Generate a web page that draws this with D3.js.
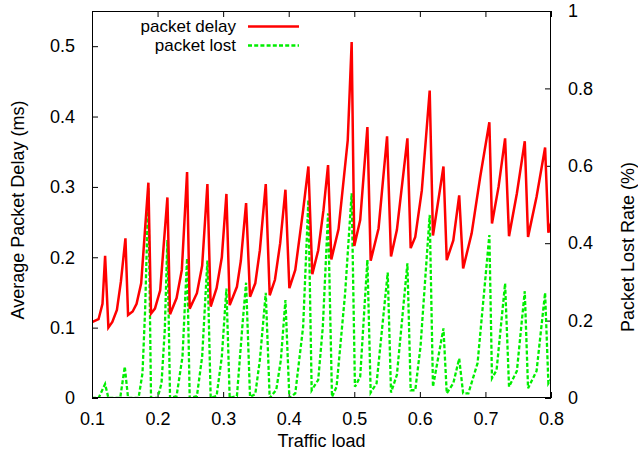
<!DOCTYPE html>
<html>
<head>
<meta charset="utf-8">
<script src="https://cdn.jsdelivr.net/npm/d3@7"></script>
<style>
  html, body { margin: 0; padding: 0; background: #fff; }
  svg { display: block; font-family: "Liberation Sans", Arial, sans-serif; }
</style>
</head>
<body>
<svg id="chart" width="638" height="457"></svg>
<script>
// Traffic load sample points and the average packet delay (ms) measured at each
const delayLoad = [
  0.100, 0.110, 0.116, 0.120, 0.125, 0.131, 0.138, 0.144, 0.151, 0.155,
  0.162, 0.168, 0.175, 0.186, 0.190, 0.196, 0.204, 0.215, 0.219, 0.229,
  0.237, 0.245, 0.249, 0.260, 0.268, 0.276, 0.281, 0.290, 0.298, 0.305,
  0.310, 0.321, 0.327, 0.335, 0.341, 0.349, 0.356, 0.365, 0.371, 0.379,
  0.387, 0.395, 0.401, 0.410, 0.422, 0.430, 0.436, 0.445, 0.453, 0.460,
  0.465, 0.476, 0.490, 0.496, 0.500, 0.509, 0.520, 0.525, 0.537, 0.550,
  0.556, 0.565, 0.581, 0.586, 0.593, 0.603, 0.615, 0.620, 0.636, 0.641,
  0.651, 0.660, 0.666, 0.679, 0.692, 0.706, 0.710, 0.720, 0.730, 0.736,
  0.748, 0.760, 0.765, 0.778, 0.791, 0.796, 0.802
];
const delayValues = [
  0.108, 0.112, 0.134, 0.202, 0.100, 0.108, 0.125, 0.165, 0.227, 0.118,
  0.123, 0.134, 0.163, 0.306, 0.120, 0.127, 0.153, 0.285, 0.119, 0.142,
  0.182, 0.321, 0.127, 0.149, 0.188, 0.304, 0.130, 0.156, 0.200, 0.290,
  0.132, 0.158, 0.195, 0.277, 0.144, 0.163, 0.210, 0.304, 0.146, 0.168,
  0.220, 0.296, 0.156, 0.182, 0.267, 0.329, 0.176, 0.210, 0.267, 0.331,
  0.197, 0.240, 0.366, 0.506, 0.216, 0.253, 0.385, 0.195, 0.241, 0.372,
  0.201, 0.239, 0.369, 0.213, 0.229, 0.295, 0.437, 0.231, 0.329, 0.196,
  0.224, 0.288, 0.184, 0.234, 0.314, 0.392, 0.248, 0.300, 0.369, 0.230,
  0.291, 0.365, 0.229, 0.286, 0.356, 0.235, 0.255
];

// Traffic load sample points and the packet lost rate (%) measured at each
const lossLoad = [
  0.100, 0.110, 0.120, 0.125, 0.143, 0.150, 0.155, 0.171, 0.177, 0.181,
  0.186, 0.190, 0.200, 0.206, 0.211, 0.215, 0.219, 0.229, 0.238, 0.245,
  0.249, 0.260, 0.268, 0.276, 0.281, 0.290, 0.298, 0.305, 0.310, 0.321,
  0.330, 0.335, 0.341, 0.349, 0.356, 0.365, 0.371, 0.381, 0.388, 0.395,
  0.401, 0.410, 0.422, 0.430, 0.435, 0.445, 0.452, 0.460, 0.466, 0.473,
  0.486, 0.496, 0.501, 0.509, 0.520, 0.525, 0.534, 0.551, 0.556, 0.565,
  0.581, 0.586, 0.593, 0.601, 0.615, 0.620, 0.636, 0.641, 0.651, 0.660,
  0.666, 0.674, 0.688, 0.706, 0.710, 0.717, 0.730, 0.736, 0.748, 0.760,
  0.765, 0.778, 0.791, 0.796, 0.802
];
const lossValues = [
  0.000, 0.000, 0.036, 0.000, 0.000, 0.081, 0.000, 0.000, 0.064, 0.227,
  0.542, 0.000, 0.000, 0.038, 0.176, 0.408, 0.000, 0.005, 0.107, 0.361,
  0.000, 0.005, 0.107, 0.355, 0.000, 0.005, 0.107, 0.283, 0.000, 0.005,
  0.200, 0.298, 0.003, 0.010, 0.098, 0.272, 0.000, 0.021, 0.098, 0.253,
  0.000, 0.012, 0.184, 0.512, 0.020, 0.047, 0.184, 0.477, 0.003, 0.029,
  0.270, 0.529, 0.029, 0.055, 0.357, 0.014, 0.038, 0.324, 0.014, 0.060,
  0.348, 0.020, 0.020, 0.133, 0.473, 0.029, 0.180, 0.012, 0.038, 0.102,
  0.012, 0.012, 0.090, 0.421, 0.051, 0.072, 0.296, 0.029, 0.070, 0.276,
  0.025, 0.070, 0.272, 0.038, 0.055
];

// Axis ticks
const xTicks = [0.1, 0.2, 0.3, 0.4, 0.5, 0.6, 0.7, 0.8];
const delayTicks = [0, 0.1, 0.2, 0.3, 0.4, 0.5];
const lossTicks = [0, 0.2, 0.4, 0.6, 0.8, 1];

const seriesNames = ["packet delay", "packet lost"];
const seriesColors = ["#ff0000", "#00ee00"];
const lossDash = "4,2.2";

const svg = d3.select("#chart");
const m = { left: 92, right: 551, top: 11, bottom: 398 };
const fontSize = 18;
const legendFontSize = 17;

const x = d3.scaleLinear().domain([0.1, 0.8]).range([m.left, m.right]);
const yDelay = d3.scaleLinear().domain([0, 0.55]).range([m.bottom, m.top]);
const yLoss = d3.scaleLinear().domain([0, 1]).range([m.bottom, m.top]);

svg.append("defs").append("clipPath").attr("id", "plotClip")
  .append("rect")
  .attr("x", m.left).attr("y", m.top)
  .attr("width", m.right - m.left).attr("height", m.bottom - m.top);

const tickLen = 6;

// Axes: ticks point into the plot, x ticks mirrored on the top edge
const styleAxis = g => {
  g.select(".domain").remove();
  g.selectAll(".tick line").attr("stroke", "#000").attr("stroke-width", 1);
  g.selectAll(".tick text")
    .attr("font-size", fontSize)
    .attr("font-family", "Liberation Sans, Arial, sans-serif")
    .attr("fill", "#000");
};

svg.append("g")
  .attr("transform", `translate(0,${m.bottom})`)
  .call(d3.axisBottom(x).tickValues(xTicks).tickFormat(d3.format(".1f"))
    .tickSizeInner(-tickLen).tickSizeOuter(0).tickPadding(14))
  .call(styleAxis);

svg.append("g")
  .attr("transform", `translate(0,${m.top})`)
  .call(d3.axisTop(x).tickValues(xTicks).tickFormat("")
    .tickSizeInner(-tickLen).tickSizeOuter(0))
  .call(styleAxis);

svg.append("g")
  .attr("transform", `translate(${m.left},0)`)
  .call(d3.axisLeft(yDelay).tickValues(delayTicks).tickFormat(d => d === 0 ? "0" : d3.format(".1f")(d))
    .tickSizeInner(-tickLen).tickSizeOuter(0).tickPadding(17))
  .call(styleAxis);

svg.append("g")
  .attr("transform", `translate(${m.right},0)`)
  .call(d3.axisRight(yLoss).tickValues(lossTicks).tickFormat(d => (d === 0 || d === 1) ? String(d) : d3.format(".1f")(d))
    .tickSizeInner(-tickLen).tickSizeOuter(0).tickPadding(17))
  .call(styleAxis);

// Series lines
const plot = svg.append("g").attr("clip-path", "url(#plotClip)");

const delayLine = d3.line()
  .x((d, i) => x(delayLoad[i]))
  .y(d => yDelay(d));
const lossLine = d3.line()
  .x((d, i) => x(lossLoad[i]))
  .y(d => yLoss(d));

plot.append("path")
  .datum(lossValues)
  .attr("d", lossLine)
  .attr("fill", "none")
  .attr("stroke", seriesColors[1])
  .attr("stroke-width", 2.3)
  .attr("stroke-dasharray", lossDash)
  .attr("stroke-linejoin", "miter");

plot.append("path")
  .datum(delayValues)
  .attr("d", delayLine)
  .attr("fill", "none")
  .attr("stroke", seriesColors[0])
  .attr("stroke-width", 2.5)
  .attr("stroke-linejoin", "miter");

// Plot frame
svg.append("rect")
  .attr("x", m.left + 0.5).attr("y", m.top + 0.5)
  .attr("width", m.right - m.left - 1).attr("height", m.bottom - m.top - 1)
  .attr("fill", "none").attr("stroke", "#000").attr("stroke-width", 1);

// Legend: right-aligned labels with a sample stroke beside each
const legendTop = 26.5, legendStep = 19;
seriesNames.forEach((name, i) => {
  const yy = legendTop + i * legendStep;
  svg.append("text")
    .attr("x", 236).attr("y", yy)
    .attr("dy", "0.35em")
    .attr("text-anchor", "end")
    .attr("font-size", legendFontSize)
    .text(name);
  const ln = svg.append("line")
    .attr("x1", 248).attr("x2", 299)
    .attr("y1", yy).attr("y2", yy)
    .attr("stroke", seriesColors[i])
    .attr("stroke-width", i === 0 ? 2.5 : 2.3);
  if (i === 1) ln.attr("stroke-dasharray", lossDash);
});

// Axis titles
svg.append("text")
  .attr("x", (m.left + m.right) / 2).attr("y", 447)
  .attr("text-anchor", "middle")
  .attr("font-size", fontSize)
  .text("Traffic load");

svg.append("text")
  .attr("transform", "translate(24,210) rotate(-90)")
  .attr("text-anchor", "middle")
  .attr("font-size", fontSize)
  .text("Average Packet Delay (ms)");

svg.append("text")
  .attr("transform", "translate(634,247) rotate(-90)")
  .attr("text-anchor", "middle")
  .attr("font-size", fontSize)
  .text("Packet Lost Rate (%)");
</script>
</body>
</html>
